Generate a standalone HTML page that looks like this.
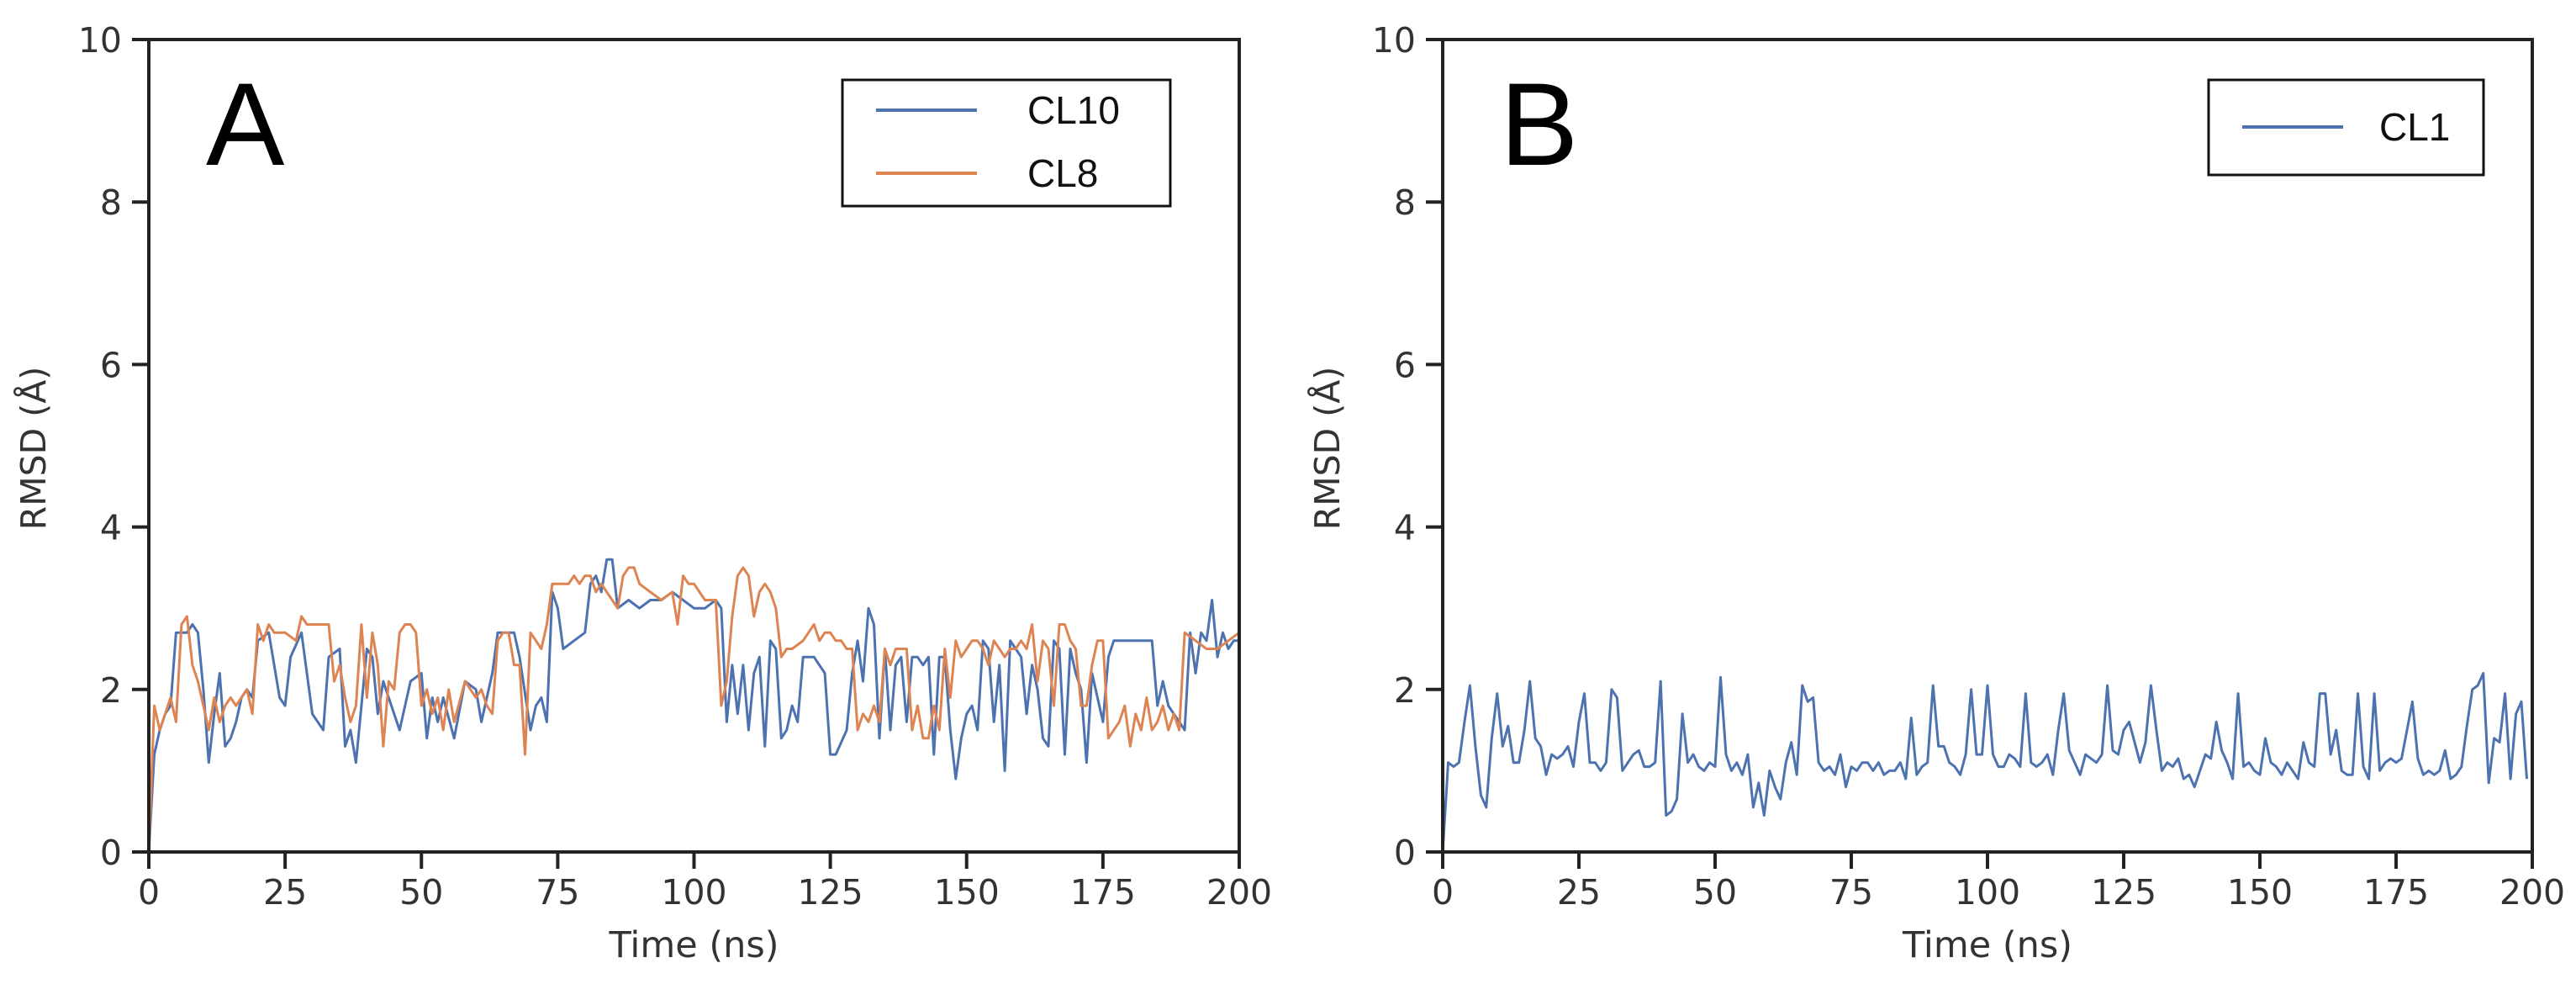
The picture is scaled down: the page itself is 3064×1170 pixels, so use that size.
<!DOCTYPE html>
<html><head><meta charset="utf-8"><style>
html,body{margin:0;padding:0;background:#fff;}
svg{display:block;font-family:"DejaVu Sans","Liberation Sans",sans-serif;}
</style></head><body>
<svg id="fig" width="3064" height="1170" viewBox="0 0 3064 1170" xmlns="http://www.w3.org/2000/svg"></svg>
<script>
const xTicks=[0,25,50,75,100,125,150,175,200];
const yTicks=[0,2,4,6,8,10];
const tCL10=[0,1,2,3,4,5,6,7,8,9,10,11,12,13,14,15,16,17,18,19,20,22,24,25,26,28,30,32,33,35,36,37,38,40,41,42,43,44,46,48,50,51,52,53,54,56,58,60,61,63,64,66,67,68,70,71,72,73,74,75,76,78,80,81,82,83,84,85,86,88,90,92,94,96,98,100,102,104,105,106,107,108,109,110,111,112,113,114,115,116,117,118,119,120,122,124,125,126,128,129,130,131,132,133,134,135,136,137,138,139,140,141,142,143,144,145,146,147,148,149,150,151,152,153,154,155,156,157,158,159,160,161,162,163,164,165,166,167,168,169,170,171,172,173,174,175,176,177,178,180,182,184,185,186,187,189,190,191,192,193,194,195,196,197,198,199,200];
const vCL10=[0,1.2,1.5,1.7,1.8,2.7,2.7,2.7,2.8,2.7,2.0,1.1,1.7,2.2,1.3,1.4,1.6,1.9,2.0,1.9,2.6,2.7,1.9,1.8,2.4,2.7,1.7,1.5,2.4,2.5,1.3,1.5,1.1,2.5,2.4,1.7,2.1,1.9,1.5,2.1,2.2,1.4,1.9,1.6,1.9,1.4,2.1,2.0,1.6,2.2,2.7,2.7,2.7,2.4,1.5,1.8,1.9,1.6,3.2,3.0,2.5,2.6,2.7,3.3,3.4,3.2,3.6,3.6,3.0,3.1,3.0,3.1,3.1,3.2,3.1,3.0,3.0,3.1,3.0,1.6,2.3,1.7,2.3,1.5,2.2,2.4,1.3,2.6,2.5,1.4,1.5,1.8,1.6,2.4,2.4,2.2,1.2,1.2,1.5,2.2,2.6,2.1,3.0,2.8,1.4,2.5,1.5,2.3,2.4,1.6,2.4,2.4,2.3,2.4,1.2,2.4,2.4,1.5,0.9,1.4,1.7,1.8,1.5,2.6,2.5,1.6,2.3,1.0,2.6,2.5,2.4,1.7,2.3,2.0,1.4,1.3,2.6,2.5,1.2,2.5,2.2,2.0,1.1,2.2,1.9,1.6,2.4,2.6,2.6,2.6,2.6,2.6,1.8,2.1,1.8,1.6,1.5,2.7,2.2,2.7,2.6,3.1,2.4,2.7,2.5,2.6,2.6];
const tCL8=[0,1,2,3,4,5,6,7,8,9,10,11,12,13,14,15,16,17,18,19,20,21,22,23,25,27,28,29,31,33,34,35,36,37,38,39,40,41,42,43,44,45,46,47,48,49,50,51,52,53,54,55,56,58,59,60,61,62,63,64,65,66,67,68,69,70,71,72,73,74,75,76,77,78,79,80,81,82,83,84,85,86,87,88,89,90,92,94,96,97,98,99,100,102,104,105,106,107,108,109,110,111,112,113,114,115,116,117,118,120,121,122,123,124,125,126,127,128,129,130,131,132,133,134,135,136,137,138,139,140,141,142,143,144,145,146,147,148,149,150,151,152,153,154,155,156,157,158,159,160,161,162,163,164,165,166,167,168,169,170,171,172,173,174,175,176,177,178,179,180,181,182,183,184,185,186,187,188,189,190,192,194,196,198,200];
const vCL8=[0,1.8,1.5,1.7,1.9,1.6,2.8,2.9,2.3,2.1,1.8,1.5,1.9,1.6,1.8,1.9,1.8,1.9,2.0,1.7,2.8,2.6,2.8,2.7,2.7,2.6,2.9,2.8,2.8,2.8,2.1,2.3,1.9,1.6,1.8,2.8,1.9,2.7,2.3,1.3,2.1,2.0,2.7,2.8,2.8,2.7,1.8,2.0,1.7,1.9,1.5,2.0,1.6,2.1,2.0,1.9,2.0,1.8,1.7,2.6,2.7,2.7,2.3,2.3,1.2,2.7,2.6,2.5,2.8,3.3,3.3,3.3,3.3,3.4,3.3,3.4,3.4,3.2,3.3,3.2,3.1,3.0,3.4,3.5,3.5,3.3,3.2,3.1,3.2,2.8,3.4,3.3,3.3,3.1,3.1,1.8,2.1,2.9,3.4,3.5,3.4,2.9,3.2,3.3,3.2,3.0,2.4,2.5,2.5,2.6,2.7,2.8,2.6,2.7,2.7,2.6,2.6,2.5,2.5,1.5,1.7,1.6,1.8,1.6,2.5,2.3,2.5,2.5,2.5,1.5,1.8,1.4,1.4,1.8,1.5,2.5,1.9,2.6,2.4,2.5,2.6,2.6,2.5,2.3,2.6,2.5,2.4,2.5,2.5,2.6,2.5,2.8,2.1,2.6,2.5,1.8,2.8,2.8,2.6,2.5,1.8,1.8,2.3,2.6,2.6,1.4,1.5,1.6,1.8,1.3,1.7,1.5,1.9,1.5,1.6,1.8,1.5,1.7,1.5,2.7,2.6,2.5,2.5,2.6,2.7];
const vCL1=[0,1.1,1.05,1.1,1.6,2.05,1.3,0.7,0.55,1.4,1.95,1.3,1.55,1.1,1.1,1.5,2.1,1.4,1.3,0.95,1.2,1.15,1.2,1.3,1.05,1.6,1.95,1.1,1.1,1.0,1.1,2.0,1.9,1.0,1.1,1.2,1.25,1.05,1.05,1.1,2.1,0.45,0.5,0.65,1.7,1.1,1.2,1.05,1.0,1.1,1.05,2.15,1.2,1.0,1.1,0.95,1.2,0.55,0.85,0.45,1.0,0.8,0.65,1.1,1.35,0.95,2.05,1.85,1.9,1.1,1.0,1.05,0.95,1.2,0.8,1.05,1.0,1.1,1.1,1.0,1.1,0.95,1.0,1.0,1.1,0.9,1.65,0.95,1.05,1.1,2.05,1.3,1.3,1.1,1.05,0.95,1.2,2.0,1.2,1.2,2.05,1.2,1.05,1.05,1.2,1.15,1.05,1.95,1.1,1.05,1.1,1.2,0.95,1.5,1.95,1.25,1.1,0.95,1.2,1.15,1.1,1.2,2.05,1.25,1.2,1.5,1.6,1.35,1.1,1.35,2.05,1.5,1.0,1.1,1.05,1.15,0.9,0.95,0.8,1.0,1.2,1.15,1.6,1.25,1.1,0.9,1.95,1.05,1.1,1.0,0.95,1.4,1.1,1.05,0.95,1.1,1.0,0.9,1.35,1.1,1.05,1.95,1.95,1.2,1.5,1.0,0.95,0.95,1.95,1.05,0.9,1.95,1.0,1.1,1.15,1.1,1.15,1.5,1.85,1.15,0.95,1.0,0.95,1.0,1.25,0.9,0.95,1.05,1.55,2.0,2.05,2.2,0.85,1.4,1.35,1.95,0.9,1.7,1.85,0.9];
const tCL1=vCL1.map((v,i)=>i);

const NS="http://www.w3.org/2000/svg";
const svg=document.getElementById('fig');
function mk(tag,attrs,parent){const e=document.createElementNS(NS,tag);for(const k in attrs)e.setAttribute(k,attrs[k]);(parent||svg).appendChild(e);return e;}

function panel(px0,px1,letter,series,legend){
  const py0=1013,py1=47;
  const g=mk('g',{});
  
  
  const X=t=>px0+(t-0)/200*(px1-px0);
  const Y=v=>py0-(v-0)/10*(py0-py1);
  series.forEach(s=>{
    const d=s.t.map((t,i)=>(i?'L':'M')+X(t).toFixed(1)+','+Y(s.v[i]).toFixed(1)).join('');
    const p=mk('path',{d:d,fill:'none',stroke:s.color,'stroke-width':3,'stroke-linejoin':'round'},g);
    
    
  });
  const fr=mk('rect',{x:px0,y:py1,width:px1-px0,height:py0-py1,fill:'none',stroke:'#222','stroke-width':4},g);
  
  
  xTicks.forEach(t=>{
    mk('line',{x1:X(t),x2:X(t),y1:py0,y2:py0+20,stroke:'#222','stroke-width':4},g);
    const tx=mk('text',{x:X(t),y:py0+62,'font-size':41,fill:'#333','text-anchor':'middle'},g);
    tx.textContent=t;
    
    
  });
  yTicks.forEach(v=>{
    mk('line',{x1:px0-20,x2:px0,y1:Y(v),y2:Y(v),stroke:'#222','stroke-width':4},g);
    const tx=mk('text',{x:px0-32,y:Y(v)+15,'font-size':41,fill:'#333','text-anchor':'end'},g);
    tx.textContent=v;
    
    
  });
  const xl=mk('text',{x:(px0+px1)/2,y:1138,'font-size':43,fill:'#333','text-anchor':'middle'},g);
  xl.textContent='Time (ns)';
  
  
  const yc=533, xc=px0-123;
  const yl=mk('text',{x:xc,y:yc,'font-size':41,fill:'#333','text-anchor':'middle',transform:`rotate(-90 ${xc} ${yc})`},g);
  yl.textContent='RMSD (Å)';
  
  
  const lt=mk('text',{x:px0+68,y:196,'font-size':140,'font-weight':'normal',fill:'#000','font-family':'Liberation Sans Narrow, Liberation Sans, sans-serif'},g);
  lt.textContent=letter;
  
  
  const lg=mk('g',{},g);
  
  
  mk('rect',{x:legend.x,y:95,width:legend.w,height:legend.h,fill:'#fff',stroke:'#111','stroke-width':3},lg);
  series.forEach((s,i)=>{
    const y=legend.ly0+i*75;
    const e=mk('g',{},lg);
    
    
    mk('line',{x1:legend.x+40,x2:legend.x+160,y1:y,y2:y,stroke:s.color,'stroke-width':4},e);
    const t=mk('text',{x:legend.x+legend.tx,y:y+16,'font-size':46,fill:'#111','font-family':'Liberation Sans Narrow, Liberation Sans, sans-serif'},e);
    t.textContent=s.name;
  });
}
panel(177,1474,'A',[
  {name:'CL10',t:tCL10,v:vCL10,color:'#4c72b0'},
  {name:'CL8',t:tCL8,v:vCL8,color:'#dd8452'}
],{x:1002,w:390,h:150,ly0:131,tx:220});
panel(1716,3012,'B',[
  {name:'CL1',t:tCL1,v:vCL1,color:'#4c72b0'}
],{x:2627,w:327,h:113,ly0:151,tx:203});
</script>
</body></html>
